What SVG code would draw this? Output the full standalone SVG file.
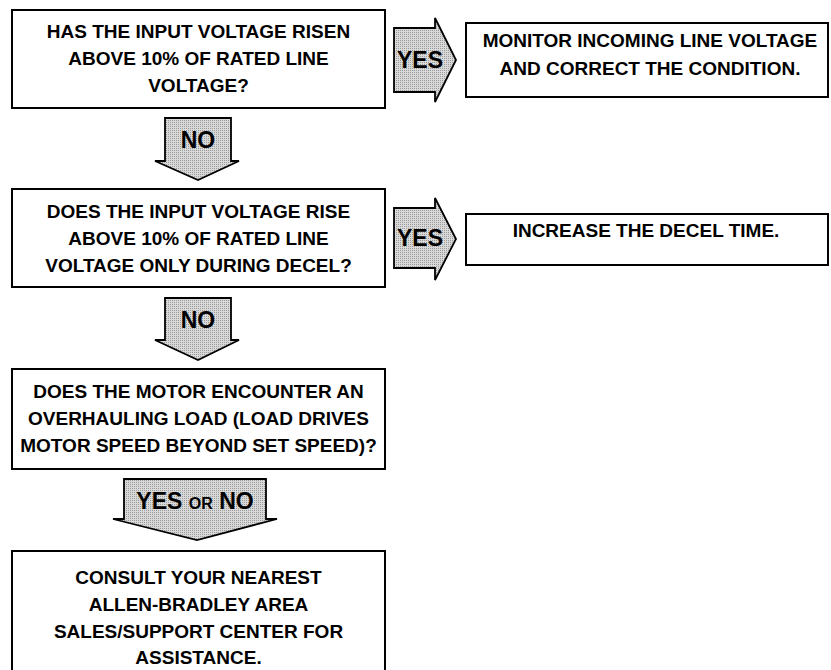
<svg xmlns="http://www.w3.org/2000/svg" width="831" height="670" viewBox="0 0 831 670">
<defs>
<pattern id="dots" width="2" height="2" patternUnits="userSpaceOnUse">
<rect width="2" height="2" fill="#d9d9d9"/>
<rect width="1" height="1" fill="#9a9a9a"/>
</pattern>
<style>
.box{fill:#fff;stroke:#000;stroke-width:2}
.arr{fill:url(#dots);stroke:#000;stroke-width:1.8;stroke-linejoin:miter}
.t{font-family:"Liberation Sans",Arial,sans-serif;font-weight:bold;font-size:19px;fill:#000;text-anchor:middle}
.lbl{font-family:"Liberation Sans",Arial,sans-serif;font-weight:bold;font-size:23px;fill:#000;text-anchor:middle}
.sc{font-size:16px}
</style>
</defs>
<rect width="831" height="670" fill="#fff"/>
<g id="connectors">
<polygon class="arr" points="394,28 435,28 435,18 456,60 435,102 435,92 394,92"/>
<text class="lbl" x="420" y="68">YES</text>
<polygon class="arr" points="394,208 435,208 435,198 456,239 435,280 435,268 394,268"/>
<text class="lbl" x="420" y="246">YES</text>
<polygon class="arr" points="165,118 231,118 231,161 239,161 198,180 155,161 165,161"/>
<text class="lbl" x="198" y="148">NO</text>
<polygon class="arr" points="165,298 231,298 231,340 239,340 198,360 155,340 165,340"/>
<text class="lbl" x="198" y="328">NO</text>
<polygon class="arr" points="124,479 266,479 266,519 277,519 197,540 113,519 124,519"/>
<text class="lbl" x="195" y="509">YES <tspan class="sc">OR</tspan> NO</text>
</g>
<g id="q1">
<rect class="box" x="12" y="10" width="373" height="98"/>
<text class="t" x="198.5" y="38">HAS THE INPUT VOLTAGE RISEN</text>
<text class="t" x="198.5" y="65">ABOVE 10% OF RATED LINE</text>
<text class="t" x="198.5" y="92">VOLTAGE?</text>
</g>
<g id="a1">
<rect class="box" x="466" y="23" width="362" height="74"/>
<text class="t" x="650" y="47">MONITOR INCOMING LINE VOLTAGE</text>
<text class="t" x="650" y="75">AND CORRECT THE CONDITION.</text>
</g>
<g id="q2">
<rect class="box" x="12" y="189" width="373" height="98"/>
<text class="t" x="198.5" y="218">DOES THE INPUT VOLTAGE RISE</text>
<text class="t" x="198.5" y="245">ABOVE 10% OF RATED LINE</text>
<text class="t" x="198.5" y="272">VOLTAGE ONLY DURING DECEL?</text>
</g>
<g id="a2">
<rect class="box" x="466" y="214" width="362" height="51"/>
<text class="t" x="646" y="237">INCREASE THE DECEL TIME.</text>
</g>
<g id="q3">
<rect class="box" x="12" y="369" width="373" height="100"/>
<text class="t" x="198.5" y="398">DOES THE MOTOR ENCOUNTER AN</text>
<text class="t" x="198.5" y="425">OVERHAULING LOAD (LOAD DRIVES</text>
<text class="t" x="198.5" y="452">MOTOR SPEED BEYOND SET SPEED)?</text>
</g>
<g id="a3">
<rect class="box" x="12" y="551" width="373" height="140"/>
<text class="t" x="198.5" y="584">CONSULT YOUR NEAREST</text>
<text class="t" x="198.5" y="611">ALLEN-BRADLEY AREA</text>
<text class="t" x="198.5" y="638">SALES/SUPPORT CENTER FOR</text>
<text class="t" x="198.5" y="664">ASSISTANCE.</text>
</g>
</svg>
